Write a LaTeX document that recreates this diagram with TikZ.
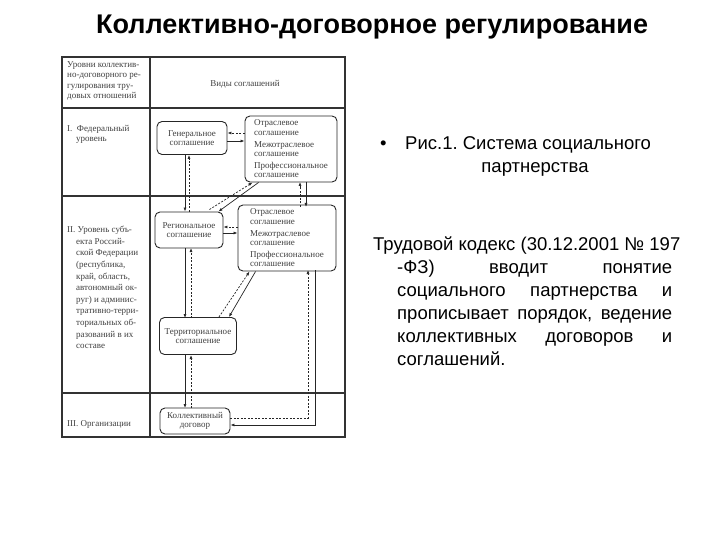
\documentclass[tikz,border=0pt]{standalone}
\usepackage{fontspec}
\setmainfont{Liberation Sans}
\newfontfamily\scan{Liberation Serif}
\usetikzlibrary{arrows.meta}
\frenchspacing
\begin{document}
\begin{tikzpicture}[x=1pt,y=-1pt,
  frame/.style={draw=black!80,line width=1.2pt},
  bx/.style={draw=black!85,line width=0.9pt,rounded corners=5pt},
  tt/.style={font=\scan\fontsize{9}{9.6}\selectfont,text=black!75,align=left,inner sep=0pt},
  sa/.style={draw=black!85,line width=0.7pt,-{Latex[length=4pt,width=3pt]}},
  da/.style={draw=black!85,line width=0.7pt,dashed,dash pattern=on 2pt off 1.5pt,-{Latex[length=4pt,width=3pt]}},
  body/.style={font=\fontsize{18.5}{23}\selectfont,inner sep=0pt,anchor=base west}]
\useasboundingbox (0,0) rectangle (720,540);
\fill[white] (0,0) rectangle (720,540);
% title
\node[font=\bfseries\fontsize{27}{30}\selectfont] (title) at (372,27) {Коллективно-договорное регулирование};
% table
\draw[frame] (62,57) rectangle (345,437);
\draw[frame] (150,57) -- (150,437);
\draw[frame] (62,108) -- (345,108);
\draw[frame] (62,196) -- (345,196);
\draw[frame] (62,393) -- (345,393);
\node[tt,anchor=north west,font=\scan\fontsize{9}{10.5}\selectfont] (h1) at (67,61) {Уровни коллектив-\\но-договорного ре-\\гулирования тру-\\довых отношений};
\node[tt] (h2) at (245,84) {Виды соглашений};
\node[tt,anchor=north west,font=\scan\fontsize{9}{10.5}\selectfont] (r1) at (67,125) {I.\ \ Федеральный\\\ \ \ \ уровень};
\node[tt,anchor=north west,font=\scan\fontsize{9}{11.6}\selectfont] (r2) at (67,226) {II. Уровень субъ-\\\ \ \ \ екта Россий-\\\ \ \ \ ской Федерации\\\ \ \ \ (республика,\\\ \ \ \ край, область,\\\ \ \ \ автономный ок-\\\ \ \ \ руг) и админис-\\\ \ \ \ тративно-терри-\\\ \ \ \ ториальных об-\\\ \ \ \ разований в их\\\ \ \ \ составе};
\node[tt,anchor=west] (r3) at (67,424) {III. Организации};
% boxes
\node[bx,tt,align=center,minimum width=70pt,minimum height=33pt] (gen) at (192,138) {Генеральное\\соглашение};
\node[bx,tt,minimum width=92pt,minimum height=66pt,inner sep=4pt] (of) at (291,149) {Отраслевое\\соглашение\\[2pt]Межотраслевое\\соглашение\\[2pt]Профессиональное\\соглашение};
\node[bx,tt,align=center,minimum width=68pt,minimum height=36pt] (reg) at (189,230) {Региональное\\соглашение};
\node[bx,tt,minimum width=98pt,minimum height=63pt,inner sep=4pt] (o2) at (287,238) {Отраслевое\\соглашение\\[2pt]Межотраслевое\\соглашение\\[2pt]Профессиональное\\соглашение};
\node[bx,tt,align=center,minimum width=77pt,minimum height=37pt] (ter) at (198,336) {Территориальное\\соглашение};
\node[bx,tt,align=center,minimum width=70pt,minimum height=26pt] (kol) at (195,421) {Коллективный\\договор};
% arrows federal
\draw[sa] ([yshift=-3pt]gen.east) -- ([yshift=-3pt]gen.east -| of.west);
\draw[da] ([yshift=5pt]gen.east -| of.west) -- ([yshift=5pt]gen.east);
\draw[sa] ([xshift=-7pt]gen.south) -- ([xshift=-7pt]gen.south |- reg.north);
\draw[da] ([xshift=0pt]reg.north) -- ([xshift=0pt]reg.north |- gen.south);
\draw[sa] ([xshift=14pt]of.south west) -- ([xshift=-5pt]reg.north east);
\draw[da] ([xshift=-14pt,yshift=2pt]reg.north east) -- ([xshift=8pt]of.south west);
\draw[sa] (306,182) -- (306,207);
\draw[da] (300,207) -- (300,182);
% arrows level II
\draw[sa] ([yshift=-3pt]reg.east) -- ([yshift=-3pt]reg.east -| o2.west);
\draw[da] ([yshift=3pt]reg.east -| o2.west) -- ([yshift=3pt]reg.east);
\draw[sa] (185,248) -- (185,318);
\draw[da] (191,318) -- (191,248);
\draw[sa] ([xshift=18pt]o2.south west) -- ([xshift=-8pt]ter.north east);
\draw[da] ([xshift=-18pt]ter.north east) -- ([xshift=12pt]o2.south west);
\draw[sa] (185,355) -- (185,408);
\draw[da] (191,408) -- (191,355);
\draw[sa] (315,270) -- (315,425) -- (kol.east |- 0,425);
\draw[da] (kol.east |- 0,418) -- (308,418) -- (308,270);
% right text
\node[body] (bul) at (380,150) {•};
\node[body] (cap1) at (405,150) {Рис.1. Система социального};
\node[body,anchor=base] (cap2) at (535,173) {партнерства};
\node[body] (l1) at (373,250) {Трудовой кодекс (30.12.2001 № 197};
\node[body] (l2) at (397,273) {\makebox[275pt][s]{-ФЗ) вводит понятие}};
\node[body] (l3) at (397,296) {\makebox[275pt][s]{социального партнерства и}};
\node[body] (l4) at (397,319) {\makebox[275pt][s]{прописывает порядок, ведение}};
\node[body] (l5) at (397,342) {\makebox[275pt][s]{коллективных договоров и}};
\node[body] (l6) at (397,365) {соглашений.};
\end{tikzpicture}
\end{document}
